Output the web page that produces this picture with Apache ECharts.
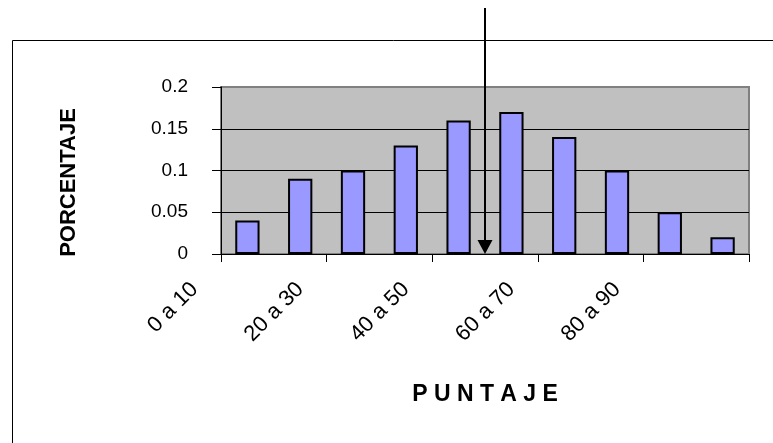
<!DOCTYPE html>
<html>
<head>
<meta charset="utf-8">
<script src="https://cdn.jsdelivr.net/npm/echarts@6/dist/echarts.min.js"></script>
<style>
html,body{margin:0;padding:0;background:#fff;}
#c{width:773px;height:443px;}
</style>
</head>
<body>
<div id="c"></div>
<script>
var categories = ['0 a 10','10 a 20','20 a 30','30 a 40','40 a 50','50 a 60','60 a 70','70 a 80','80 a 90','90 a 100'];
var values = [0.04, 0.09, 0.10, 0.13, 0.16, 0.17, 0.14, 0.10, 0.05, 0.02];
var yTicks = [0, 0.05, 0.1, 0.15, 0.2];
var xName = 'P U N T A J E';
var yName = 'PORCENTAJE';
var markerBoundary = [5, 6]; // arrow between 50 a 60 and 60 a 70 (score 60)

var W = 773, H = 443;
var gLeft = 221, gTop = 87, gRight = 24, gBottom = 189;
var catW = (W - gLeft - gRight) / categories.length;
var font = 'Liberation Sans, Arial, sans-serif';

var chart = echarts.init(document.getElementById('c'), null, {renderer: 'canvas'});
chart.setOption({
  animation: false,
  backgroundColor: '#fff',
  grid: [
    {left: gLeft, top: gTop, right: gRight, bottom: gBottom, show: true,
     backgroundColor: '#c0c0c0', borderColor: '#808080', borderWidth: 2},
    {left: gLeft - catW, top: gTop, right: gRight + catW, bottom: gBottom, show: false}
  ],
  xAxis: [
    {type: 'category', gridIndex: 0, data: categories, boundaryGap: true,
     axisLine: {show: true, lineStyle: {color: '#000', width: 1}},
     axisTick: {show: true, length: 8, lineStyle: {color: '#000'}},
     axisLabel: {show: false},
     splitLine: {show: false},
     name: xName, nameLocation: 'middle', nameGap: 129,
     nameTextStyle: {fontFamily: font, fontWeight: 'bold', fontSize: 23, color: '#000'}},
    {type: 'category', gridIndex: 1, data: categories, boundaryGap: true,
     axisLine: {show: false}, axisTick: {show: false}, splitLine: {show: false},
     axisLabel: {show: true, interval: 1, rotate: 45, margin: 32,
       fontFamily: font, fontSize: 22, color: '#000'}}
  ],
  yAxis: [
    {type: 'value', gridIndex: 0, min: yTicks[0], max: yTicks[yTicks.length - 1], interval: 0.05,
     axisLine: {show: true, lineStyle: {color: '#000', width: 1}},
     axisTick: {show: true, length: 9, lineStyle: {color: '#000'}},
     axisLabel: {margin: 33, fontFamily: font, fontSize: 19, color: '#000'},
     splitLine: {show: true, showMaxLine: false, lineStyle: {color: '#000', width: 1}},
     name: yName, nameLocation: 'middle', nameRotate: 90, nameGap: 141,
     nameTextStyle: {fontFamily: font, fontWeight: 'bold', fontSize: 22, color: '#000', padding: [0, 24, 0, 0]}},
    {type: 'value', gridIndex: 1, show: false, min: 0, max: 1}
  ],
  series: [{
    type: 'bar', xAxisIndex: 0, yAxisIndex: 0, data: values, barWidth: '46%',
    itemStyle: {color: '#9999ff', borderColor: '#000', borderWidth: 2},
    silent: true
  }]
});

var x1 = chart.convertToPixel({xAxisIndex: 0}, markerBoundary[0] - 1);
var x2 = chart.convertToPixel({xAxisIndex: 0}, markerBoundary[1] - 1);
var ax = (x1 + x2) / 2;
var y0 = chart.convertToPixel({yAxisIndex: 0}, 0);
chart.setOption({
  graphic: [
    {type: 'rect', shape: {x: 12.5, y: 40.5, width: 900, height: 600},
     style: {fill: null, stroke: '#000', lineWidth: 1}, z: 0, silent: true},
    {type: 'line', shape: {x1: ax, y1: 8, x2: ax, y2: y0 - 12},
     style: {stroke: '#000', lineWidth: 2}, z: 100, silent: true},
    {type: 'polygon', shape: {points: [[ax - 7.5, y0 - 14], [ax + 7.5, y0 - 14], [ax, y0]]},
     style: {fill: '#000'}, z: 100, silent: true}
  ]
});
</script>
</body>
</html>
